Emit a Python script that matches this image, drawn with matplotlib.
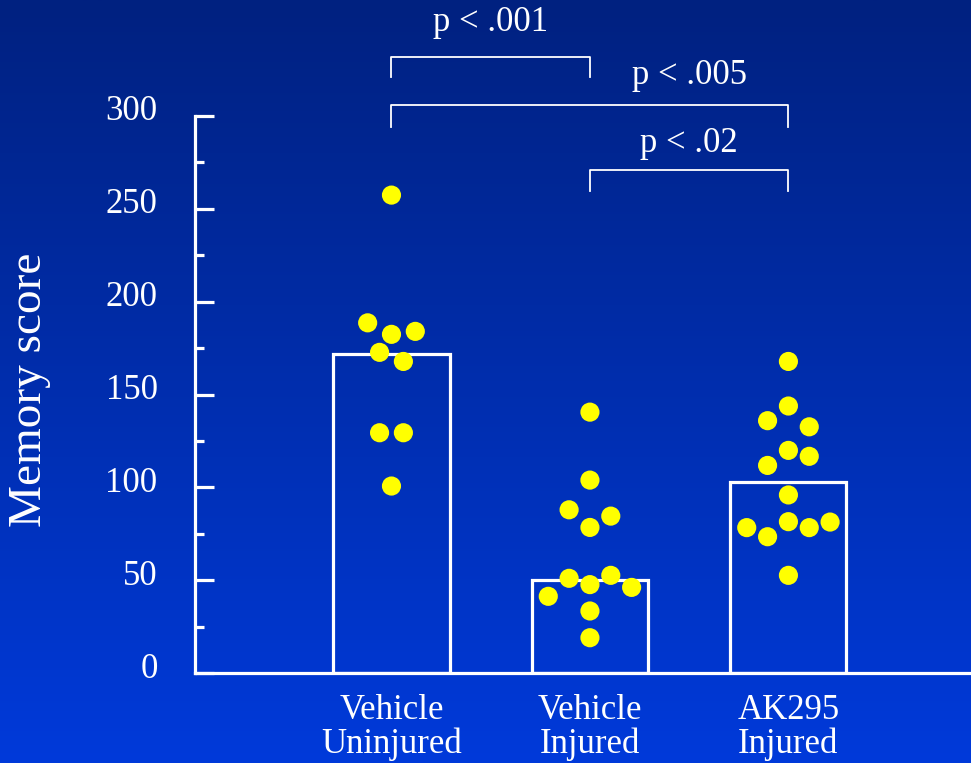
import numpy as np
import matplotlib
matplotlib.use('Agg')
from matplotlib import pyplot as plt
from matplotlib import transforms

plt.rcParams['font.family'] = ['Liberation Serif', 'DejaVu Serif']

# data
groups = ['Vehicle\nUninjured', 'Vehicle\nInjured', 'AK295\nInjured']
means = [171.8, 50.0, 102.9]
g1 = [257.4, 188.6, 182.4, 184.0, 172.7, 167.8, 129.4, 129.4, 100.7]
g1_dx = [0, -0.12, 0, 0.12, -0.06, 0.06, -0.06, 0.06, 0]
g2 = [140.5, 103.9, 87.9, 84.5, 78.4, 51.0, 52.6, 47.6, 46.1, 41.3, 33.4, 19.0]
g2_dx = [0, 0, -0.105, 0.105, 0, -0.105, 0.105, 0, 0.21, -0.21, 0, 0]
g3 = [167.8, 143.8, 135.9, 132.6, 119.9, 116.7, 111.8, 95.9, 78.3, 73.4, 81.5, 78.3, 81.3, 52.6]
g3_dx = [0, 0, -0.105, 0.105, 0, 0.105, -0.105, 0, -0.21, -0.105, 0, 0.105, 0.21, 0]
comparisons = [(0, 1, 'p < .001'), (0, 2, 'p < .005'), (1, 2, 'p < .02')]

fig = plt.figure(figsize=(9.71, 7.63), dpi=100)

# blue gradient backdrop
bg = fig.add_axes([0, 0, 1, 1], zorder=-10)
top = np.array([0, 33, 128]) / 255
bot = np.array([0, 58, 218]) / 255
t = np.linspace(0, 1, 256)[:, None]
grad = top[None, :] * (1 - t) + bot[None, :] * t
bg.imshow(grad[:, None, :], aspect='auto', extent=[0, 1, 0, 1])
bg.axis('off')

ax = fig.add_axes([195 / 971, 90 / 763, 776 / 971, 557 / 763])
ax.patch.set_alpha(0)
x = np.arange(len(groups))
ax.bar(x, means, width=0.585, fill=False, edgecolor='white', linewidth=2.3, zorder=2)

for i, (vals, dx) in enumerate([(g1, g1_dx), (g2, g2_dx), (g3, g3_dx)]):
    ax.scatter(i + np.array(dx), vals, s=190, color='#FFFF00', edgecolor='none', zorder=3, clip_on=False)

ax.set_xlim(-0.99, 2.92)
ax.set_ylim(0, 300)
for s in ['top', 'right']:
    ax.spines[s].set_visible(False)
for s in ['left', 'bottom']:
    ax.spines[s].set_color('white')
    ax.spines[s].set_linewidth(2.3)

ax.set_yticks(np.arange(0, 301, 50))
ax.set_yticks(np.arange(0, 301, 25), minor=True)
ax.tick_params(axis='y', which='major', direction='in', length=14, width=2.3, color='white',
               labelcolor='white', labelsize=25, pad=27)
ax.tick_params(axis='y', which='minor', direction='in', length=6.5, width=2.3, color='white')
off = transforms.ScaledTranslation(0, 8 / 100, fig.dpi_scale_trans)
for lab in ax.get_yticklabels():
    lab.set_transform(lab.get_transform() + off)

ax.set_xticks(x)
ax.set_xticklabels(groups, linespacing=1.02)
ax.tick_params(axis='x', length=0, labelcolor='white', labelsize=25, pad=15)

ax.set_ylabel('Memory score', color='white', fontsize=34)
ax.yaxis.set_label_coords(-0.186, 0.508)

# significance brackets
bracket_y = {(0, 1): (331.7, 321.0, 350.6), (0, 2): (305.9, 294.0, 322.0), (1, 2): (270.9, 259.6, 285.4)}
for a, b, txt in comparisons:
    yt, yl, ylab = bracket_y[(a, b)]
    ax.plot([a, a, b, b], [yl, yt, yt, yl], color='white', lw=1.3, clip_on=False)
    ax.text((a + b) / 2 + (0.5 if (a, b) == (0, 2) else 0), ylab, txt, color='white', fontsize=25,
            ha='center', va='center', clip_on=False)

fig.savefig('out.png', dpi=100)
